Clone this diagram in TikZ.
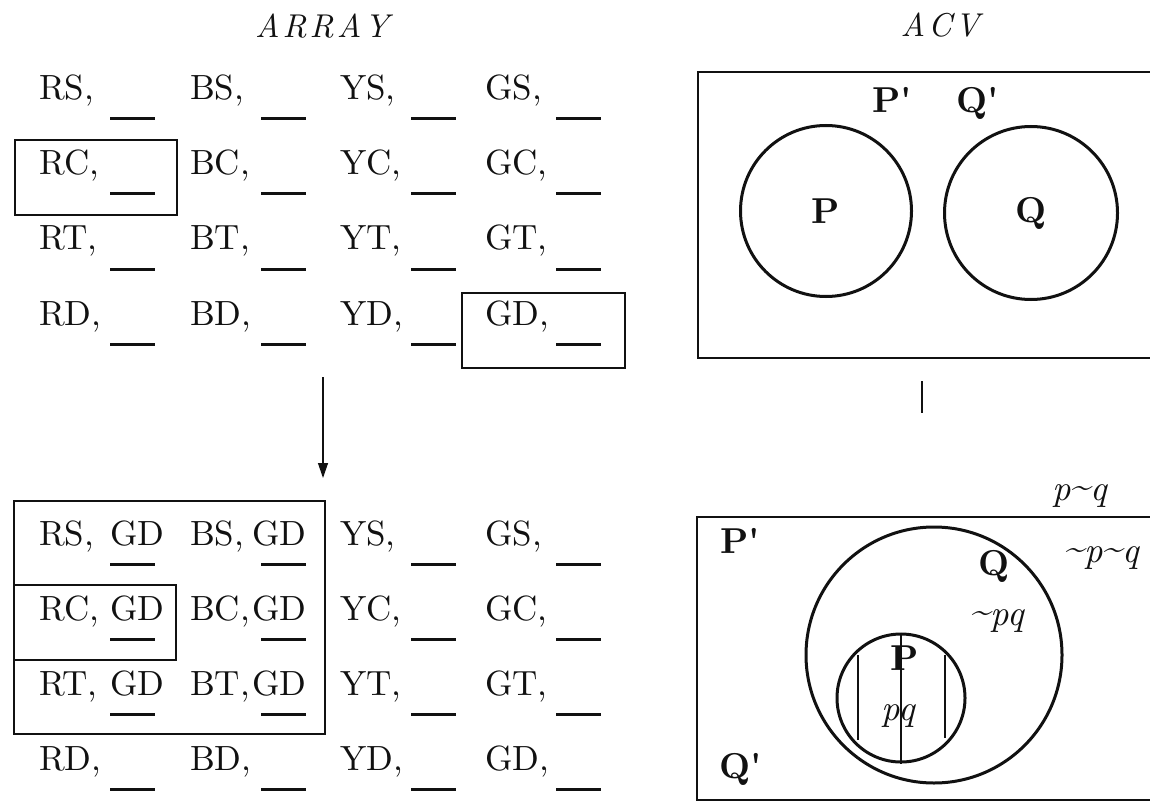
\documentclass[tikz,border=0pt]{standalone}
\usepackage{fontspec}
\setmainfont{lmroman10-regular.otf}[
  BoldFont=lmroman10-bold.otf,
  ItalicFont=lmroman10-italic.otf,
  BoldItalicFont=lmroman10-bolditalic.otf]
\usetikzlibrary{arrows.meta}
\definecolor{ink}{HTML}{111111}
\newcommand{\cellfont}{\fontsize{35}{40}\selectfont}
\newcommand{\setfont}{\fontsize{36}{42}\selectfont\bfseries}
\newcommand{\prm}{\textquotesingle}
\newcommand{\tld}{\raisebox{3pt}{\textasciitilde}}
\tikzset{
  cell/.style={anchor=base west, inner sep=0pt, font=\cellfont, text=ink},
  blank/.style={draw=ink, line width=3pt},
  box/.style={draw=ink, line width=2.8pt},
  ring/.style={circle, draw=ink, line width=3pt, inner sep=0pt, font=\setfont, text=ink},
  setlabel/.style={anchor=base, inner sep=0pt, font=\setfont, text=ink},
  region/.style={anchor=base, inner sep=0pt, font=\fontsize{36}{42}\selectfont\itshape, text=ink},
  title/.style={anchor=base, inner sep=0pt, font=\fontsize{33}{40}\selectfont\itshape, text=ink},
  hatch/.style={draw=ink, line width=1.2pt},
  arrow/.style={-{Triangle[length=15pt,width=10pt]}, draw=ink, line width=1.3pt}
}

\begin{document}
\begin{tikzpicture}[x=1pt,y=-1pt]
\clip (0,0) rectangle (1150,802);

% Titles
\node[title] (arraytitle) at (322,38) {A\kern3pt R\kern3pt R\kern3pt A\kern3pt Y};
\node[title] (acvtitle) at (940,37) {A\kern3pt C\kern3pt V};

% Array before the step
\foreach \col/\cx in {R/39,B/190,Y/340,G/485}{
  \foreach \row/\ry in {S/100,C/175,T/250,D/325}{
    \node[cell] (t\col\row) at (\cx,\ry) {\col\row,};
    \draw[blank] (\cx+71,\ry+19) -- ++(45,0);
  }
}
\draw[box] (15,140) rectangle (177,215);
\draw[box] (462,293) rectangle (625,368);

\coordinate (flowtop) at (323,377);
\coordinate (flowend) at (323,478);
\draw[arrow] (flowtop) -- (flowend);

% Array after the step
\foreach \col/\cx in {R/39,B/190,Y/340,G/485}{
  \foreach \row/\ry in {S/545,C/620,T/695,D/770}{
    \node[cell] (b\col\row) at (\cx,\ry) {\col\row,};
    \draw[blank] (\cx+71,\ry+19) -- ++(45,0);
  }
}
\foreach \row/\ry in {S/545,C/620,T/695}{
  \node[cell] (gR\row) at (110,\ry) {GD};
  \node[cell] (gB\row) at (252,\ry) {GD};
}
\draw[box] (14,501) rectangle (325,734);
\draw[box] (14,585) rectangle (176,660);

% ACV, two separate sets
\draw[box] (698,72) rectangle (1170,358);
\node[ring, minimum size=171pt] (setP) at (826,211) {P};
\node[ring, minimum size=173pt] (setQ) at (1031,213) {Q};
\node[setlabel] (notP) at (892,113) {P\prm};
\node[setlabel] (notQ) at (978,113) {Q\prm};

\coordinate (tickA) at (922,381);
\coordinate (tickB) at (922,413);
\draw[hatch, line width=2pt] (tickA) -- (tickB);

% ACV, P inside Q
\draw[box] (697,517) rectangle (1170,800);
\node[ring, minimum size=256pt] (bigQ) at (934,655) {};
\node[ring, minimum size=128pt] (smallP) at (901,698) {};
\draw[hatch] (858,655) -- (858,740);
\draw[hatch] (smallP.north) -- (smallP.south);
\draw[hatch] (945,655) -- (945,738);

\node[setlabel] (outP) at (740,553) {P\prm};
\node[setlabel] (outQ) at (741,778) {Q\prm};
\node[setlabel] (inQ) at (994,575) {Q};
\node[setlabel] (inP) at (905,670) {P};
\node[region] (rpq) at (898,720) {pq};
\node[region] (rnpq) at (997,625) {\tld pq};
\node[region] (rnpnq) at (1102,562) {\tld p\tld q};
\node[region] (rpnq) at (1080,500) {p\tld q};

\end{tikzpicture}
\end{document}
